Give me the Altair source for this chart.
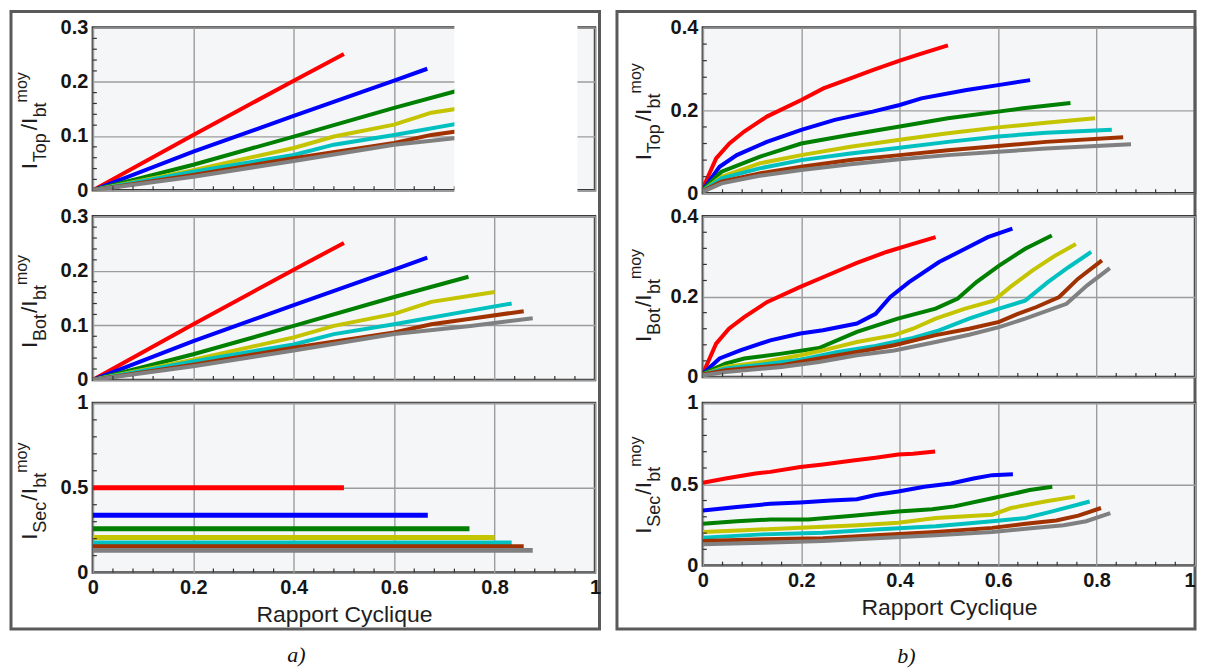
import altair as alt
import pandas as pd

FONT = "Liberation Sans"
SERIES = ["s1", "s2", "s3", "s4", "s5", "s6", "s7"]
COLORS = ["#ff0000", "#0000ff", "#008000", "#c4c400", "#00c0c0", "#a03200", "#808080"]

X_MAJOR = [0, 0.2, 0.4, 0.6, 0.8, 1]
X_MINOR = [0.04, 0.08, 0.12, 0.16, 0.24, 0.28, 0.32, 0.36, 0.44, 0.48, 0.52, 0.56,
           0.64, 0.68, 0.72, 0.76, 0.84, 0.88, 0.92, 0.96]
A_Y_MAJOR = [0, 0.1, 0.2, 0.3]
A_Y_MINOR = [0.02, 0.04, 0.06, 0.08, 0.12, 0.14, 0.16, 0.18, 0.22, 0.24, 0.26, 0.28]
B_Y_MAJOR = [0, 0.2, 0.4]
B_Y_MINOR = [0.04, 0.08, 0.12, 0.16, 0.24, 0.28, 0.32, 0.36]
SEC_Y_MAJOR = [0, 0.5, 1]
SEC_Y_MINOR = [0.1, 0.2, 0.3, 0.4, 0.6, 0.7, 0.8, 0.9]

# a) I_Top and I_Bot (same curves)
A_TOPBOT = {
    "s1": ([0, 0.2, 0.4, 0.5], [0, 0.102, 0.202, 0.251]),
    "s2": ([0, 0.2, 0.4, 0.6, 0.666], [0, 0.071, 0.137, 0.202, 0.224]),
    "s3": ([0, 0.2, 0.4, 0.6, 0.748], [0, 0.047, 0.099, 0.152, 0.189]),
    "s4": ([0, 0.2, 0.4, 0.48, 0.6, 0.674, 0.8], [0, 0.037, 0.078, 0.099, 0.121, 0.143, 0.161]),
    "s5": ([0, 0.2, 0.4, 0.48, 0.6, 0.752, 0.834], [0, 0.034, 0.065, 0.084, 0.102, 0.127, 0.14]),
    "s6": ([0, 0.2, 0.4, 0.6, 0.674, 0.752, 0.858], [0, 0.028, 0.059, 0.087, 0.102, 0.112, 0.126]),
    "s7": ([0, 0.2, 0.4, 0.6, 0.752, 0.876], [0, 0.025, 0.054, 0.084, 0.099, 0.113]),
}
# blank (cut-out) zone of the a) I_Top panel
A_TOP_MASK_X = [0.72, 0.965]
A_TOP_MASK_Y = [-0.008, 0.308]

A_SEC = {
    "s1": ([0, 0.5], [0.5, 0.5]),
    "s2": ([0, 0.667], [0.338, 0.338]),
    "s3": ([0, 0.75], [0.259, 0.259]),
    "s4": ([0, 0.8], [0.207, 0.207]),
    "s5": ([0, 0.834], [0.175, 0.175]),
    "s6": ([0, 0.858], [0.152, 0.152]),
    "s7": ([0, 0.876], [0.131, 0.131]),
}

B_TOP = {
    "s1": ([0, 0.027, 0.054, 0.084, 0.13, 0.2, 0.245, 0.3, 0.345, 0.4, 0.444, 0.498],
           [0.012, 0.084, 0.12, 0.149, 0.185, 0.225, 0.253, 0.277, 0.297, 0.32, 0.337, 0.357]),
    "s2": ([0, 0.034, 0.069, 0.13, 0.2, 0.268, 0.345, 0.4, 0.444, 0.536, 0.6, 0.665],
           [0.008, 0.064, 0.092, 0.124, 0.153, 0.177, 0.197, 0.213, 0.229, 0.249, 0.261, 0.273]),
    "s3": ([0, 0.038, 0.115, 0.2, 0.3, 0.4, 0.498, 0.6, 0.651, 0.747],
           [0.008, 0.052, 0.088, 0.12, 0.141, 0.161, 0.181, 0.197, 0.205, 0.218]),
    "s4": ([0, 0.038, 0.115, 0.2, 0.3, 0.4, 0.498, 0.6, 0.697, 0.797],
           [0.006, 0.04, 0.072, 0.092, 0.112, 0.129, 0.145, 0.159, 0.17, 0.181]),
    "s5": ([0, 0.038, 0.115, 0.2, 0.3, 0.4, 0.498, 0.6, 0.697, 0.831],
           [0.006, 0.036, 0.06, 0.08, 0.096, 0.11, 0.124, 0.137, 0.146, 0.153]),
    "s6": ([0, 0.038, 0.115, 0.2, 0.3, 0.4, 0.498, 0.6, 0.697, 0.854],
           [0.005, 0.028, 0.048, 0.064, 0.08, 0.092, 0.104, 0.114, 0.124, 0.135]),
    "s7": ([0, 0.038, 0.115, 0.2, 0.3, 0.4, 0.498, 0.6, 0.697, 0.87],
           [0.004, 0.024, 0.042, 0.056, 0.07, 0.082, 0.092, 0.1, 0.108, 0.118]),
}

B_BOT = {
    "s1": ([0, 0.027, 0.053, 0.084, 0.13, 0.198, 0.244, 0.313, 0.373, 0.427, 0.473],
           [0.008, 0.083, 0.12, 0.149, 0.186, 0.224, 0.248, 0.284, 0.311, 0.331, 0.348]),
    "s2": ([0, 0.034, 0.076, 0.137, 0.198, 0.244, 0.313, 0.351, 0.381, 0.419, 0.48, 0.533, 0.579, 0.629],
           [0.008, 0.046, 0.066, 0.091, 0.108, 0.116, 0.133, 0.157, 0.199, 0.236, 0.286, 0.319, 0.348, 0.369]),
    "s3": ([0, 0.046, 0.084, 0.16, 0.236, 0.313, 0.396, 0.473, 0.518, 0.556, 0.602, 0.655, 0.709],
           [0.008, 0.033, 0.046, 0.058, 0.072, 0.112, 0.145, 0.17, 0.195, 0.236, 0.277, 0.319, 0.352]),
    "s4": ([0, 0.046, 0.122, 0.198, 0.244, 0.313, 0.389, 0.427, 0.473, 0.533, 0.591, 0.625, 0.67, 0.716, 0.758],
           [0.006, 0.025, 0.037, 0.054, 0.066, 0.087, 0.104, 0.12, 0.145, 0.17, 0.19, 0.224, 0.265, 0.302, 0.331]),
    "s5": ([0, 0.046, 0.122, 0.198, 0.274, 0.351, 0.427, 0.48, 0.541, 0.602, 0.655, 0.701, 0.743, 0.789],
           [0.006, 0.021, 0.031, 0.043, 0.062, 0.077, 0.097, 0.116, 0.145, 0.17, 0.19, 0.236, 0.273, 0.311]),
    "s6": ([0, 0.046, 0.16, 0.236, 0.313, 0.389, 0.473, 0.541, 0.602, 0.64, 0.678, 0.724, 0.762, 0.811],
           [0.006, 0.017, 0.029, 0.046, 0.062, 0.079, 0.104, 0.12, 0.137, 0.157, 0.174, 0.199, 0.244, 0.29]),
    "s7": ([0, 0.046, 0.16, 0.236, 0.313, 0.389, 0.473, 0.541, 0.602, 0.655, 0.739, 0.781, 0.827],
           [0.004, 0.012, 0.025, 0.037, 0.054, 0.066, 0.087, 0.105, 0.124, 0.145, 0.182, 0.228, 0.271]),
}

B_SEC = {
    "s1": ([0, 0.046, 0.107, 0.137, 0.198, 0.244, 0.305, 0.351, 0.397, 0.427, 0.472],
           [0.509, 0.535, 0.566, 0.576, 0.606, 0.622, 0.646, 0.663, 0.683, 0.687, 0.701]),
    "s2": ([0, 0.069, 0.137, 0.198, 0.26, 0.313, 0.351, 0.397, 0.45, 0.504, 0.55, 0.588, 0.63],
           [0.339, 0.36, 0.38, 0.388, 0.4, 0.408, 0.434, 0.455, 0.485, 0.505, 0.535, 0.556, 0.562]),
    "s3": ([0, 0.069, 0.137, 0.214, 0.305, 0.397, 0.466, 0.511, 0.588, 0.634, 0.664, 0.71],
           [0.257, 0.273, 0.283, 0.283, 0.307, 0.333, 0.347, 0.364, 0.414, 0.444, 0.465, 0.485]),
    "s4": ([0, 0.084, 0.198, 0.305, 0.397, 0.473, 0.588, 0.626, 0.695, 0.756],
           [0.206, 0.218, 0.232, 0.246, 0.263, 0.293, 0.313, 0.354, 0.394, 0.424]),
    "s5": ([0, 0.122, 0.244, 0.351, 0.473, 0.588, 0.656, 0.71, 0.786],
           [0.172, 0.192, 0.202, 0.222, 0.242, 0.273, 0.293, 0.333, 0.394]),
    "s6": ([0, 0.122, 0.244, 0.351, 0.473, 0.588, 0.656, 0.718, 0.763, 0.809],
           [0.152, 0.162, 0.168, 0.186, 0.206, 0.232, 0.257, 0.277, 0.307, 0.354]),
    "s7": ([0, 0.122, 0.244, 0.351, 0.473, 0.588, 0.656, 0.733, 0.779, 0.828],
           [0.131, 0.141, 0.152, 0.168, 0.186, 0.206, 0.226, 0.248, 0.273, 0.323]),
}

ONE = pd.DataFrame({"k": [0]})
COLOR_SCALE = alt.Scale(domain=SERIES, range=COLORS)


def make_df(d):
    rows = []
    for s in SERIES:
        xs, ys = d[s]
        for i, (x, y) in enumerate(zip(xs, ys)):
            rows.append({"x": x, "y": y, "s": s, "i": i})
    return pd.DataFrame(rows)


def title_layers(sub, start, base):
    wsub = {"Top": 31, "Bot": 27, "Sec": 31}[sub]
    pieces = []
    y = start
    pieces.append(("I", y, base, 23))
    y -= 7
    pieces.append((sub, y, base + 9, 18))
    y -= wsub + 1
    pieces.append(("/I", y, base, 23))
    y -= 13
    pieces.append(("bt", y, base + 9, 18))
    y -= 15
    pieces.append(("moy", y, base - 10, 16))
    return [
        alt.Chart(ONE).mark_text(text=t, angle=270, align="left", baseline="alphabetic",
                                 font=FONT, fontSize=fs, color="#1e1e1e")
        .encode(x=alt.value(bx), y=alt.value(py))
        for t, py, bx, fs in pieces
    ]


def panel(d, ymax, ymaj, ymin, w, h, sub, tstart, tbase, bottom=False,
          frame=None, mask=None, caption=None, lw=4, flush_end=False):
    df = make_df(d)
    xaxis_kw = dict(values=X_MAJOR, format="~g", labels=bottom,
                    title="Rapport Cyclique" if bottom else None, labelFlush=False)
    if flush_end:
        xaxis_kw["labelAlign"] = {"condition": {"test": "datum.value >= 1", "value": "right"},
                                  "value": "center"}
    xenc = alt.X("x:Q", scale=alt.Scale(domain=[0, 1], nice=False), axis=alt.Axis(**xaxis_kw))
    yenc = alt.Y("y:Q", scale=alt.Scale(domain=[0, ymax], nice=False),
                 axis=alt.Axis(values=ymaj, format="~g", title=None, labelFlush=False))
    layers = [
        alt.Chart(df).mark_line(strokeWidth=lw, clip=True).encode(
            x=xenc, y=yenc,
            color=alt.Color("s:N", scale=COLOR_SCALE, legend=None),
            order="i:Q"),
        alt.Chart(pd.DataFrame({"y": ymin})).mark_rule(color="#333", strokeWidth=1.2).encode(
            y="y:Q", x=alt.value(0), x2=alt.value(4)),
        alt.Chart(pd.DataFrame({"x": X_MINOR})).mark_rule(color="#333", strokeWidth=1.2).encode(
            x="x:Q", y=alt.value(h), y2=alt.value(h - 4)),
    ]
    layers += title_layers(sub, tstart, tbase)
    if mask is not None:
        mx, my = mask
        layers.append(
            alt.Chart(pd.DataFrame({"x": [mx[0]], "x2": [mx[1]], "y": [my[0]], "y2": [my[1]]}))
            .mark_rect(color="white")
            .encode(x="x:Q", x2="x2:Q", y="y:Q", y2="y2:Q"))
    if frame is not None:
        fx1, fx2, fy1, fy2 = frame
        layers.append(
            alt.Chart(ONE).mark_rect(fill="white", fillOpacity=0, stroke="#5a5a5a", strokeWidth=3)
            .encode(x=alt.value(fx1), x2=alt.value(fx2), y=alt.value(fy1), y2=alt.value(fy2)))
    if caption is not None:
        txt, cx, cy = caption
        layers.append(
            alt.Chart(ONE).mark_text(text=txt, font="Liberation Serif", fontStyle="italic",
                                     fontSize=22, color="#111", baseline="middle")
            .encode(x=alt.value(cx), y=alt.value(cy)))
    return alt.layer(*layers).properties(width=w, height=h)


LW, RW = 503, 493

L1 = panel(A_TOPBOT, 0.3, A_Y_MAJOR, A_Y_MINOR, LW, 163, "Top", 142, -56,
           frame=(-82, LW + 4.5, -16, 602.5), mask=(A_TOP_MASK_X, A_TOP_MASK_Y))
L2 = panel(A_TOPBOT, 0.3, A_Y_MAJOR, A_Y_MINOR, LW, 164, "Bot", 132, -56)
L3 = panel(A_SEC, 1, SEC_Y_MAJOR, SEC_Y_MINOR, LW, 170, "Sec", 137, -56, bottom=True,
           caption=("a)", 204, 253), lw=5)

R1 = panel(B_TOP, 0.4, B_Y_MAJOR, B_Y_MINOR, RW, 166, "Top", 133, -52,
           frame=(-86, RW, -16, 602.5))
R2 = panel(B_BOT, 0.4, B_Y_MAJOR, B_Y_MINOR, RW, 161, "Bot", 126, -52)
R3 = panel(B_SEC, 1, SEC_Y_MAJOR, SEC_Y_MINOR, RW, 163, "Sec", 131, -52, bottom=True,
           caption=("b)", 204, 254), flush_end=True)

chart = (
    alt.concat(L1, R1, L2, R2, L3, R3, columns=2, bounds="flush", align="each",
               spacing={"row": 23, "column": 108})
    .properties(padding=0)
    .configure_view(fill="#f5f6f8", stroke="#3a3a3a", strokeWidth=2.5)
    .configure_axis(grid=True, gridColor="#9c9c9c", gridWidth=1.4, domain=False, ticks=False,
                    labelFont=FONT, labelFontWeight="bold", labelFontSize=20, labelColor="#151515",
                    labelPadding=5, titleFont=FONT, titleFontWeight="normal", titleFontSize=23,
                    titleColor="#1e1e1e", titlePadding=6)
)

chart.save("out.html", embed_options={"renderer": "svg", "actions": False})
